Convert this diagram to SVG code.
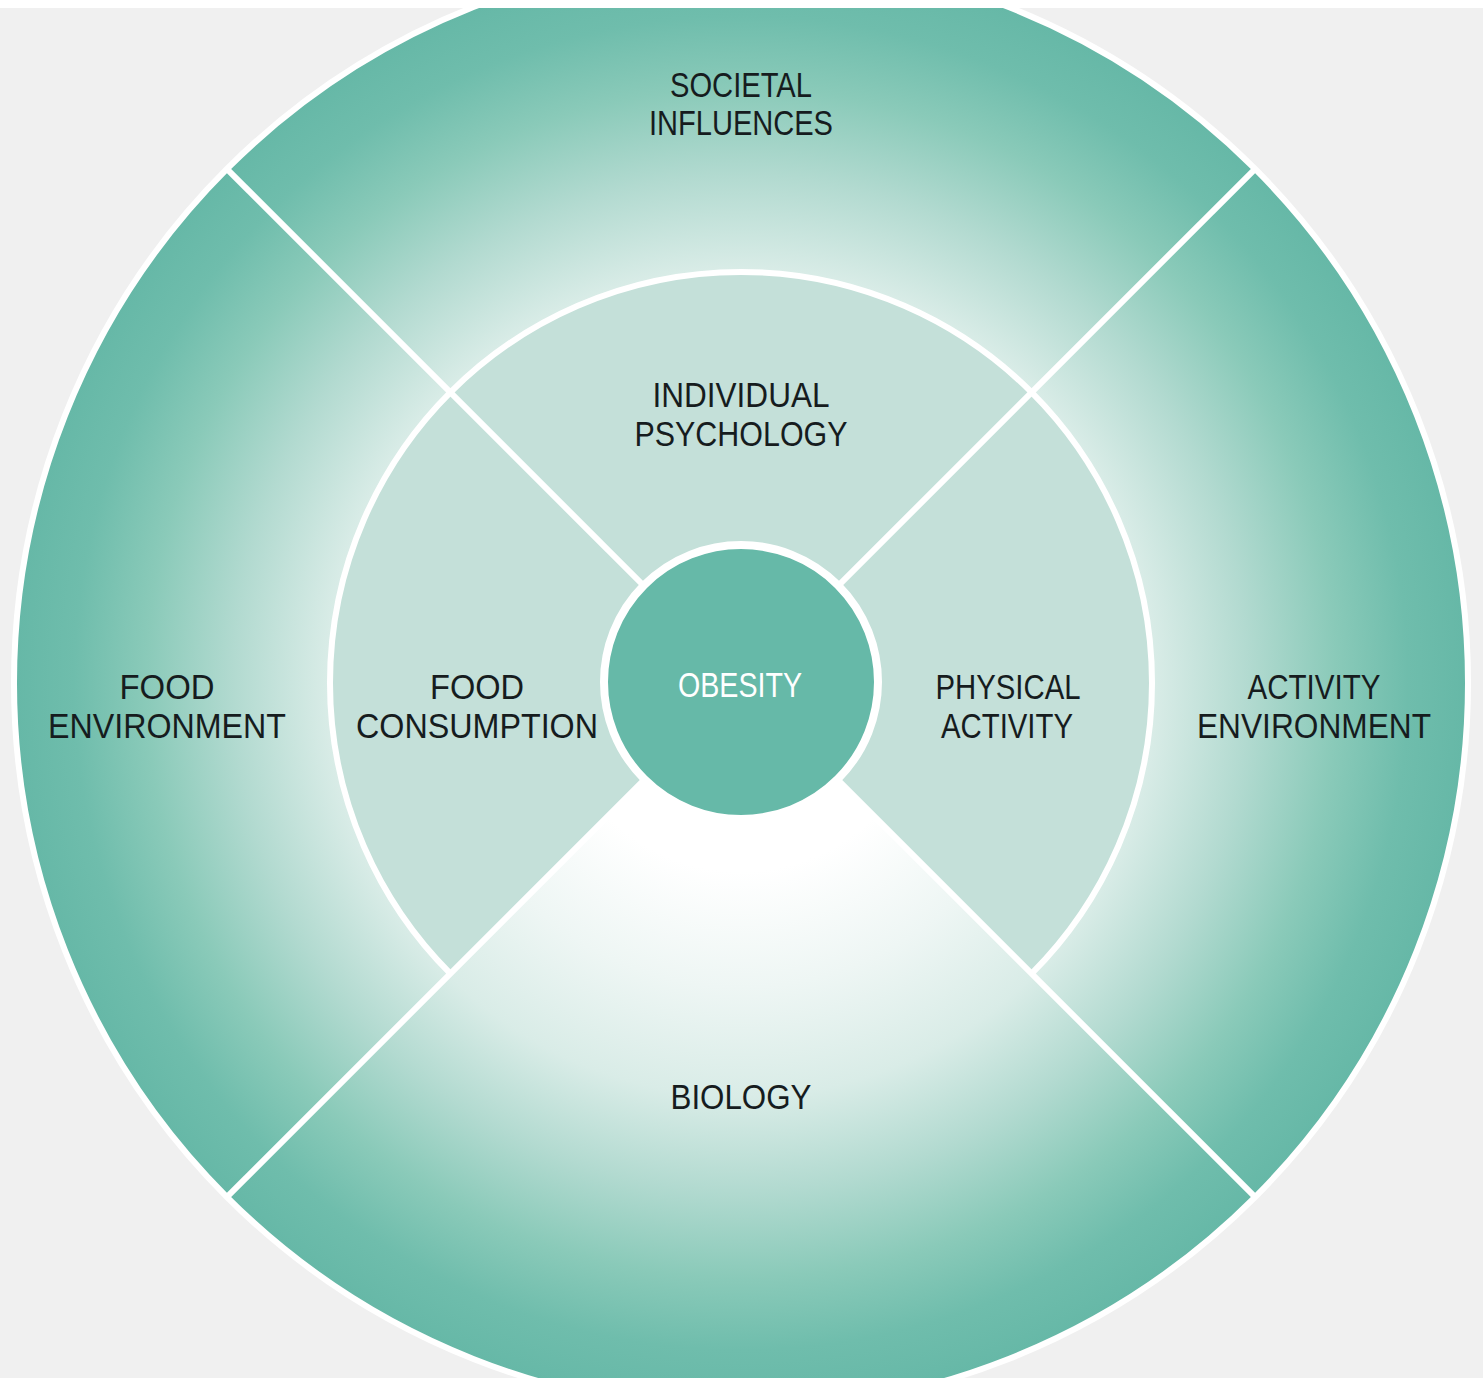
<svg xmlns="http://www.w3.org/2000/svg" width="1483" height="1381" viewBox="0 0 1483 1381">
  <defs>
    <!-- shared radial shading for the outer ring and the lower wedge -->
    <radialGradient id="ringShade" gradientUnits="userSpaceOnUse" cx="741" cy="683" r="725">
      <stop offset="0" stop-color="#ffffff"/>
      <stop offset="0.26" stop-color="#ffffff"/>
      <stop offset="0.42" stop-color="#eef6f4"/>
      <stop offset="0.57" stop-color="#d9ece7"/>
      <stop offset="0.70" stop-color="#b2dad0"/>
      <stop offset="0.82" stop-color="#8acab9"/>
      <stop offset="0.92" stop-color="#6fbdac"/>
      <stop offset="1" stop-color="#66b8a7"/>
    </radialGradient>
    <style>
      .outer { fill: url(#ringShade); }
      .inner { fill: #c4e0d9; }
      .core { fill: #66b9a8; stroke: #ffffff; stroke-width: 8; }
      .lbl { font-family: "Liberation Sans", Arial, sans-serif; font-size: 35px; fill: #161c1e; text-anchor: middle; }
      .lbl-w { fill: #ffffff; }
      .divider { stroke: #ffffff; stroke-width: 6; fill: none; }
    </style>
  </defs>

  <!-- page background -->
  <rect x="0" y="0" width="1483" height="1381" fill="#f0f0f0"/>

  <!-- outer ring: societal influences (top) -->
  <g id="societal-influences">
    <path class="outer" d="M228.3,170.3 A725,725 0 0 1 1253.7,170.3 L1031.6,392.4 A411,411 0 0 0 450.4,392.4 Z"/>
    <text class="lbl" x="741" y="97" textLength="142" lengthAdjust="spacingAndGlyphs">SOCIETAL</text>
    <text class="lbl" x="741" y="135" textLength="184" lengthAdjust="spacingAndGlyphs">INFLUENCES</text>
  </g>

  <!-- outer ring: food environment (left) -->
  <g id="food-environment">
    <path class="outer" d="M228.3,1195.7 A725,725 0 0 1 228.3,170.3 L450.4,392.4 A411,411 0 0 0 450.4,973.6 Z"/>
    <text class="lbl" x="167" y="699" textLength="95" lengthAdjust="spacingAndGlyphs">FOOD</text>
    <text class="lbl" x="167" y="738" textLength="238" lengthAdjust="spacingAndGlyphs">ENVIRONMENT</text>
  </g>

  <!-- outer ring: activity environment (right) -->
  <g id="activity-environment">
    <path class="outer" d="M1253.7,170.3 A725,725 0 0 1 1253.7,1195.7 L1031.6,973.6 A411,411 0 0 0 1031.6,392.4 Z"/>
    <text class="lbl" x="1314" y="699" textLength="133" lengthAdjust="spacingAndGlyphs">ACTIVITY</text>
    <text class="lbl" x="1314" y="738" textLength="234" lengthAdjust="spacingAndGlyphs">ENVIRONMENT</text>
  </g>

  <!-- lower wedge: biology, running from the core to the rim -->
  <g id="biology">
    <path class="outer" d="M741,683 L1253.7,1195.7 A725,725 0 0 1 228.3,1195.7 Z"/>
    <text class="lbl" x="741" y="1109" textLength="141" lengthAdjust="spacingAndGlyphs">BIOLOGY</text>
  </g>

  <!-- inner ring: individual psychology (top) -->
  <g id="individual-psychology">
    <path class="inner" d="M741,683 L450.4,392.4 A411,411 0 0 1 1031.6,392.4 Z"/>
    <text class="lbl" x="741" y="407" textLength="177" lengthAdjust="spacingAndGlyphs">INDIVIDUAL</text>
    <text class="lbl" x="741" y="446" textLength="213" lengthAdjust="spacingAndGlyphs">PSYCHOLOGY</text>
  </g>

  <!-- inner ring: food consumption (left) -->
  <g id="food-consumption">
    <path class="inner" d="M741,683 L450.4,973.6 A411,411 0 0 1 450.4,392.4 Z"/>
    <text class="lbl" x="477" y="699" textLength="94" lengthAdjust="spacingAndGlyphs">FOOD</text>
    <text class="lbl" x="477" y="738" textLength="242" lengthAdjust="spacingAndGlyphs">CONSUMPTION</text>
  </g>

  <!-- inner ring: physical activity (right) -->
  <g id="physical-activity">
    <path class="inner" d="M741,683 L1031.6,392.4 A411,411 0 0 1 1031.6,973.6 Z"/>
    <text class="lbl" x="1008" y="699" textLength="145" lengthAdjust="spacingAndGlyphs">PHYSICAL</text>
    <text class="lbl" x="1007" y="738" textLength="132" lengthAdjust="spacingAndGlyphs">ACTIVITY</text>
  </g>

  <!-- white dividers between the segments -->
  <g id="connectors">
    <circle class="divider" cx="741" cy="683" r="727" stroke-width="4"/>
    <path class="divider" d="M450.4,973.6 A411,411 0 1 1 1031.6,973.6"/>
    <line class="divider" x1="741" y1="683" x2="228.3" y2="170.3"/>
    <line class="divider" x1="741" y1="683" x2="1253.7" y2="170.3"/>
    <line class="divider" x1="741" y1="683" x2="228.3" y2="1195.7"/>
    <line class="divider" x1="741" y1="683" x2="1253.7" y2="1195.7"/>
  </g>

  <!-- centre: obesity -->
  <g id="obesity">
    <circle class="core" cx="741" cy="682" r="137"/>
    <text class="lbl lbl-w" x="740" y="697" textLength="124" lengthAdjust="spacingAndGlyphs">OBESITY</text>
  </g>

  <!-- page margins above and below -->
  <rect x="0" y="0" width="1483" height="8" fill="#ffffff"/>
  <rect x="0" y="1378" width="1483" height="3" fill="#ffffff"/>
</svg>
